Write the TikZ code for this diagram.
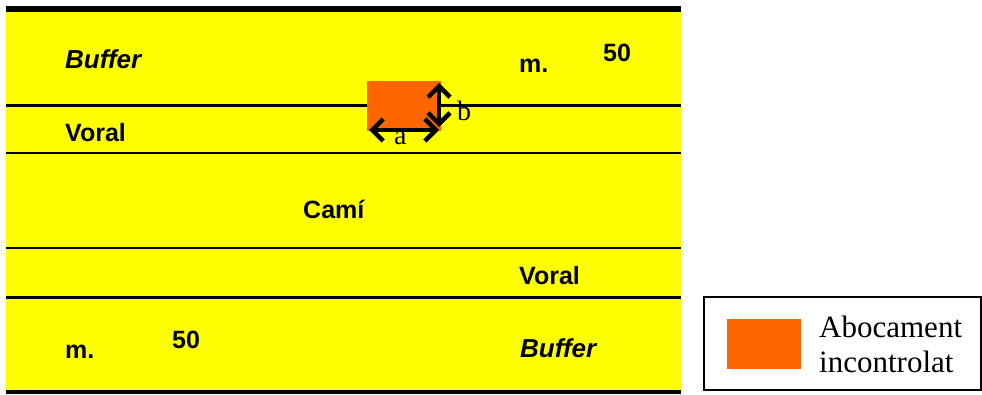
\documentclass[tikz,border=0pt]{standalone}
\usepackage{fontspec}
\setmainfont{Liberation Serif}
\setsansfont{Liberation Sans}
\usetikzlibrary{arrows.meta}
\definecolor{road}{HTML}{FFFF00}
\definecolor{spill}{HTML}{FF6600}
\begin{document}
\begin{tikzpicture}[
        x=1pt, y=-1pt,
        band/.style={draw=black, line cap=butt},
        tag/.style={anchor=base west, inner sep=0pt, font=\sffamily\bfseries\fontsize{25}{28}\selectfont},
        buffertag/.style={tag, font=\sffamily\bfseries\itshape\fontsize{26}{28}\selectfont},
        dimtag/.style={anchor=base west, inner sep=0pt, font=\fontsize{28}{30}\selectfont},
        dim/.style={draw, line width=4.5pt, {Straight Barb[length=11pt,width=22pt]}-{Straight Barb[length=11pt,width=22pt]}},
    ]
	\useasboundingbox (0,0) rectangle (982,394);
	% road surface and its edges
	\fill[road] (6,10) rectangle (681,392);
	\draw[band, line width=6pt] (6,9) -- (681,9);
	\draw[band, line width=3pt] (6,105) -- (681,105);
	\draw[band, line width=2pt] (6,153) -- (681,153);
	\draw[band, line width=2pt] (6,248) -- (681,248);
	\draw[band, line width=3pt] (6,297) -- (681,297);
	\draw[band, line width=4pt] (6,392) -- (681,392);
	% spill with its sizes
	\fill[spill] (367,81) rectangle (441,131);
	\coordinate (a_0) at (369,130);
	\coordinate (a_1) at (439,130);
	\coordinate (b_0) at (439,83);
	\coordinate (b_1) at (439,127);
	\draw[dim] (a_0) -- (a_1);
	\draw[dim] (b_0) -- (b_1);
	\node[dimtag] (a_lbl) at (394,144) {a};
	\node[dimtag] (b_lbl) at (457,120) {b};
	% labels
	\node[buffertag] (buffer_top) at (65,68) {Buffer};
	\node[tag] (m_top) at (519,72) {m.};
	\node[tag] (num_top) at (603,61) {50};
	\node[tag] (voral_top) at (65,141) {Voral};
	\node[tag] (cami) at (303,218) {Camí};
	\node[tag] (voral_bot) at (519,284) {Voral};
	\node[tag] (m_bot) at (65,358) {m.};
	\node[tag] (num_bot) at (172,348) {50};
	\node[buffertag] (buffer_bot) at (520,357) {Buffer};
	% legend
	\draw[line width=2pt] (704,297) rectangle (981,390);
	\fill[spill] (727,319) rectangle (801,369);
	\node[anchor=base west, inner sep=0pt, align=left, font=\fontsize{31}{35}\selectfont] (legend_txt) at (819,372) {Abocament\\incontrolat};
    \end{tikzpicture}
\end{document}
